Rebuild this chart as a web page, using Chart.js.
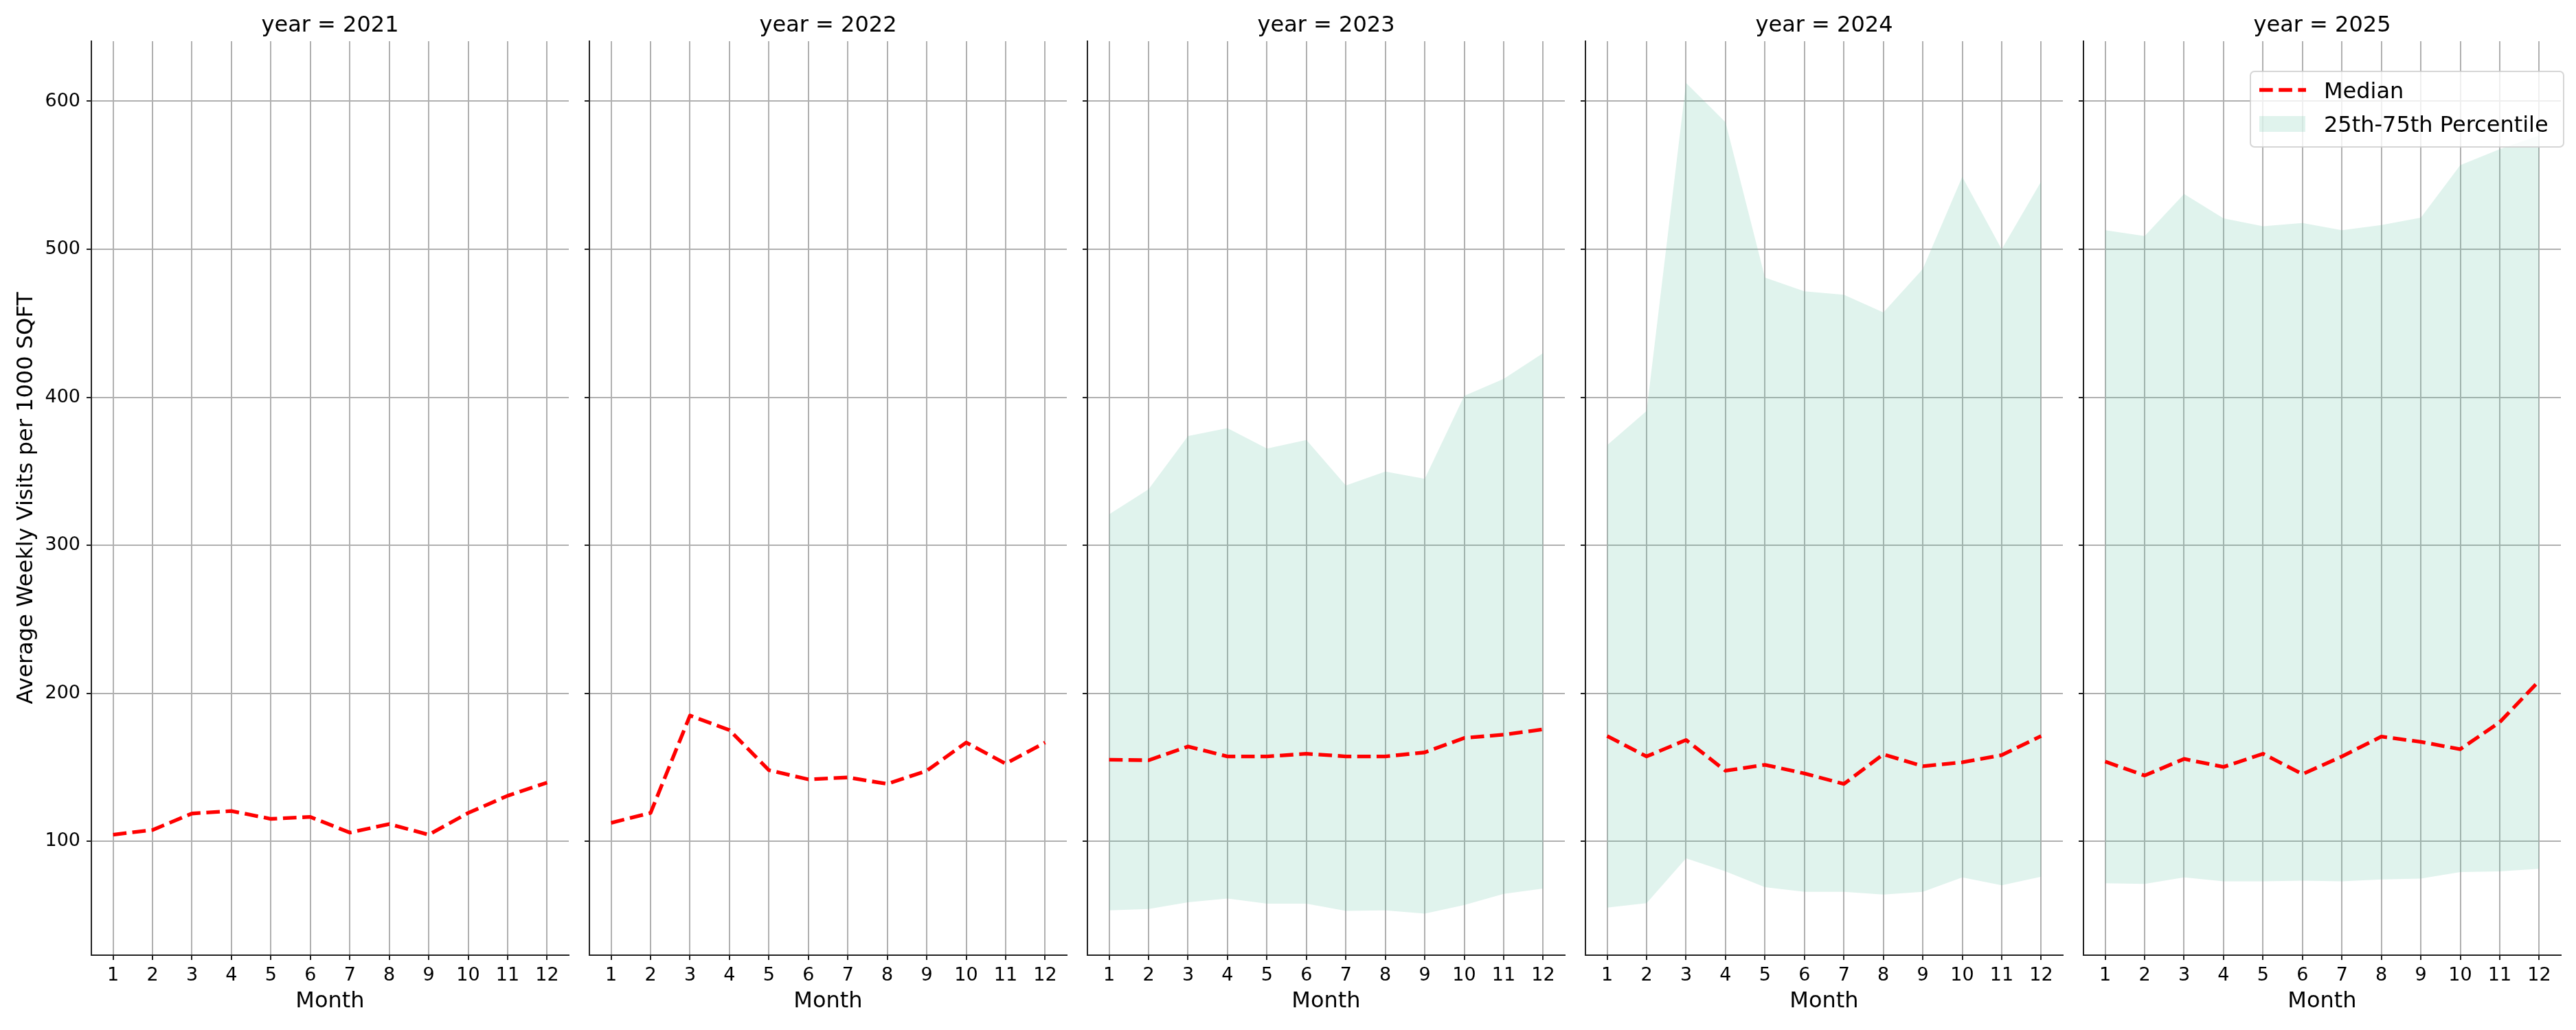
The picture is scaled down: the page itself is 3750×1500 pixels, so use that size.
<!DOCTYPE html>
<html><head><meta charset="utf-8">
<script src="https://cdn.jsdelivr.net/npm/chart.js@4.4.0/dist/chart.umd.min.js"></script>
<style>
html,body{margin:0;padding:0;background:#fff;width:3750px;height:1500px;overflow:hidden}
</style></head><body>
<script>
const months = [1,2,3,4,5,6,7,8,9,10,11,12];
const years = [2021,2022,2023,2024,2025];
const yTicks = [100,200,300,400,500,600];

const median2021 = [104.4,107.6,118.7,120.4,115.1,116.4,105.8,111.6,104.4,119.1,130.7,139.6];
const median2022 = [112.4,119.1,184.9,175.1,148.0,141.8,143.1,138.7,147.6,166.7,152.4,166.7];
const median2023 = [155.1,154.7,164.0,157.3,157.3,159.1,157.3,157.3,160.0,169.8,172.0,175.6];
const median2024 = [171.1,157.3,168.4,147.6,151.6,145.8,138.7,158.7,150.7,153.3,158.2,171.1];
const median2025 = [153.8,144.4,155.6,150.2,159.1,145.3,157.3,170.7,167.1,162.2,180.4,208.4];

const upper2023 = [320.9,337.8,373.8,379.1,365.3,371.1,340.4,349.8,344.9,400.9,412.4,429.8];
const upper2024 = [367.6,390.7,612.4,585.8,480.9,471.6,469.3,457.3,486.7,548.9,500.0,545.8];
const upper2025 = [512.9,508.9,537.3,520.9,515.6,517.8,512.9,516.4,521.3,556.9,567.6,576.9];

const lower2023 = [53.3,54.2,58.7,61.3,57.8,57.8,52.9,53.3,51.1,56.9,64.4,68.0];
const lower2024 = [55.1,58.2,88.4,79.6,68.9,65.8,65.8,64.0,65.8,75.6,70.2,76.0];
const lower2025 = [71.6,71.1,75.6,72.9,72.9,73.3,72.9,74.2,74.7,79.1,79.6,81.3];

const medians = [median2021, median2022, median2023, median2024, median2025];
const uppers = [null, null, upper2023, upper2024, upper2025];
const lowers = [null, null, lower2023, lower2024, lower2025];

Chart.defaults.font.family = '"DejaVu Sans", sans-serif';
Chart.defaults.color = '#000';

const legendPlugin = {
  id: 'boxLegend',
  afterDraw(chart) {
    const ctx = chart.ctx, ca = chart.chartArea, ds = chart.data.datasets;
    const bx = ca.right - 452, by = ca.top + 44, bw = 456, bh = 110;
    ctx.save();
    ctx.beginPath();
    ctx.roundRect(bx, by, bw, bh, 6);
    ctx.fillStyle = 'rgba(255,255,255,0.8)';
    ctx.fill();
    ctx.lineWidth = 2;
    ctx.strokeStyle = 'rgba(204,204,204,0.8)';
    ctx.stroke();
    ctx.beginPath();
    ctx.setLineDash(ds[0].borderDash);
    ctx.lineWidth = ds[0].borderWidth;
    ctx.strokeStyle = ds[0].borderColor;
    ctx.moveTo(bx + 13, by + 27);
    ctx.lineTo(bx + 81, by + 27);
    ctx.stroke();
    ctx.setLineDash([]);
    ctx.fillStyle = ds[1].backgroundColor;
    ctx.fillRect(bx + 13, by + 65, 67, 23);
    ctx.fillStyle = '#000';
    ctx.font = '32px "DejaVu Sans"';
    ctx.textBaseline = 'alphabetic';
    ctx.textAlign = 'left';
    ctx.fillText(ds[0].label, bx + 107, by + 38.7);
    ctx.fillText(ds[1].label, bx + 107, by + 87.7);
    ctx.restore();
  }
};

function pts(arr) { return arr ? months.map((m, k) => ({x: m, y: arr[k]})) : []; }

function makePanel(i) {
  const first = i === 0;
  const axLeft = 133 + 725 * i;
  const scaleW = first ? 133 : 20;
  const padR = 10;
  const cLeft = axLeft - scaleW;
  const cW = scaleW + 695 + padR;
  const canvas = document.createElement('canvas');
  canvas.width = cW; canvas.height = 1500;
  canvas.style.cssText = 'position:absolute;left:' + cLeft + 'px;top:0;width:' + cW + 'px;height:1500px';
  document.body.appendChild(canvas);
  new Chart(canvas, {
    type: 'line',
    data: {datasets: [
      {label: 'Median', data: pts(medians[i]), borderColor: '#ff0000', borderWidth: 5.33,
       borderDash: [19.7, 8.5], borderJoinStyle: 'round', pointRadius: 0, fill: false, tension: 0},
      {label: '25th-75th Percentile', data: pts(uppers[i]), borderColor: 'rgba(0,0,0,0)', borderWidth: 0,
       backgroundColor: 'rgba(102,194,165,0.2)', pointRadius: 0, fill: '+1', tension: 0},
      {label: 'p25', data: pts(lowers[i]), borderColor: 'rgba(0,0,0,0)', borderWidth: 0,
       pointRadius: 0, fill: false, tension: 0}
    ]},
    options: {
      responsive: false, animation: false,
      layout: {padding: {left: 0, right: padR, top: 0, bottom: 0}},
      plugins: {
        legend: {display: false}, tooltip: {enabled: false},
        title: {display: true, text: 'year = ' + years[i], fullSize: false, color: '#000',
                font: {size: 32, weight: 'normal', lineHeight: 1.2}, padding: {top: 18.8, bottom: 2.8}}
      },
      scales: {
        x: {
          type: 'linear', min: 0.45, max: 12.55,
          afterBuildTicks: s => { s.ticks = months.map(v => ({value: v})); },
          afterFit: s => { s.height = 109; },
          grid: {color: '#b0b0b0', lineWidth: 2, drawTicks: true, tickLength: 7, tickColor: '#222', tickWidth: 2},
          border: {display: true, color: '#222', width: 2},
          ticks: {color: '#000', font: {size: 27}, padding: 7, maxRotation: 0, autoSkip: false},
          title: {display: true, text: 'Month', color: '#000', font: {size: 32}, padding: {top: 0, bottom: 21.8}}
        },
        y: {
          type: 'linear', min: 23.0, max: 640.6,
          afterBuildTicks: s => { s.ticks = yTicks.map(v => ({value: v})); },
          afterFit: s => { s.width = scaleW; },
          grid: {color: '#b0b0b0', lineWidth: 2, drawTicks: true, tickLength: 7, tickColor: '#222', tickWidth: 2},
          border: {display: true, color: '#222', width: 2},
          ticks: {display: first, color: '#000', font: {size: 27}, padding: 9},
          title: {display: first, text: 'Average Weekly Visits per 1000 SQFT', color: '#000',
                  font: {size: 32}, padding: {top: 19.3, bottom: 0}}
        }
      }
    },
    plugins: i === 4 ? [legendPlugin] : []
  });
}

for (let i = 0; i < 5; i++) makePanel(i);
</script>
</body></html>
